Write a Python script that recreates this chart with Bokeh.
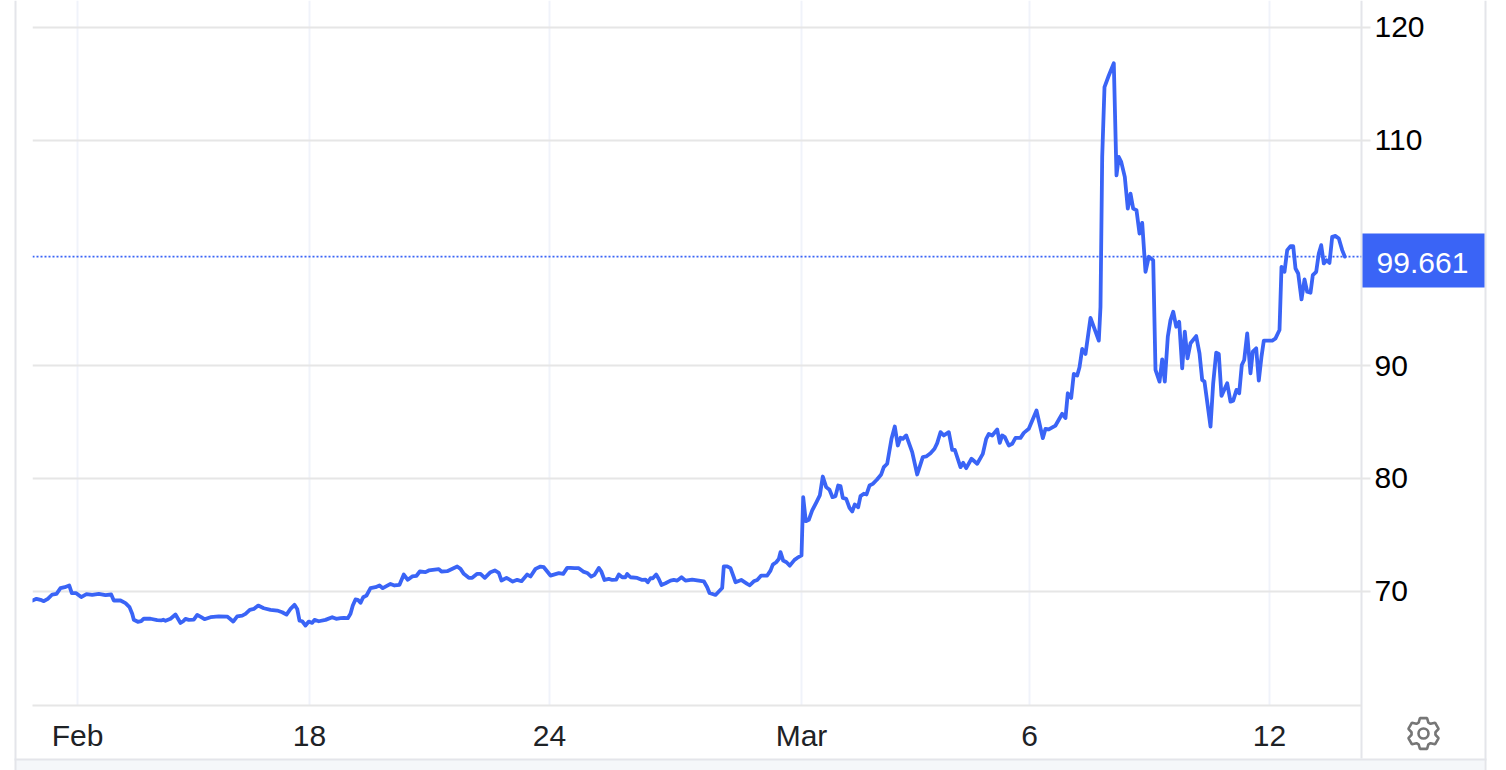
import math
from bokeh.core.properties import value
from bokeh.embed import file_html
from bokeh.models import FixedTicker, Range1d, Span
from bokeh.plotting import figure
from bokeh.resources import INLINE

# Time is an evenly compressed session axis.
t_early = [32,36,40,43.3,47.3,51.7,56,60,64.3,68.7,71.3,75.7,80.7,86,91.7,98.3,105,110.7,113.3,120,125,129,131.7,133.3,137.3,140.7,143.3,150,156.7,160.7,162.7,165,170,175]
p_early = [69.18,69.33,69.24,69.12,69.33,69.71,69.77,70.27,70.36,70.51,69.83,69.83,69.48,69.74,69.68,69.77,69.65,69.71,69.18,69.18,68.94,68.59,68.0,67.47,67.29,67.35,67.58,67.56,67.44,67.41,67.47,67.38,67.56,67.94]

t_feb_a = [180,182.7,185,188.3,193.3,196.7,200.7,204,210,218.3,226.7,230,232.7,236.7,241.7,245,249.3,253.3,257.7,263.3,270,276.7,281.7,286,290,294,296.7,299,301.7,305,308.3,311.7,314,318.3,325,331.7,335.7,340]
p_feb_a = [67.19,67.34,67.55,67.46,67.49,67.9,67.7,67.52,67.7,67.78,67.75,67.52,67.31,67.78,67.84,67.99,68.35,68.43,68.73,68.49,68.35,68.29,68.14,67.93,68.43,68.79,68.43,67.4,67.34,66.96,67.31,67.19,67.46,67.34,67.46,67.7,67.55,67.61]

t_feb_b = [343.3,347.3,350,352.3,355,357.3,360,362.7,366,370,375,379,382.3,390,394,399,403.3,407.3,411.7,416,419.3,425,428.3,438.3,441,446.7,456.7,460,463.3,468.3,471.7,476.7,480,484.3,490,494.3,498.3,501,506,512.3,516.7,521,526.7,530,535,540,543.3,550,558.3,562.7,566.7]
p_feb_b = [67.64,67.61,68.0,68.73,69.27,69.24,68.97,69.47,69.62,70.27,70.36,70.51,70.27,70.65,70.51,70.57,71.48,71.01,71.31,71.37,71.75,71.69,71.84,71.96,71.75,71.78,72.19,71.98,71.54,71.19,71.19,71.54,71.54,71.19,71.69,71.84,71.63,70.95,71.19,70.86,71.01,70.89,71.48,71.31,71.98,72.19,72.13,71.39,71.6,71.54,72.07]

t_feb_c = [570,574,578.3,582.7,586.7,590.7,594,598.3,600.7,604,608.3,611.7,615.7,618.3,621.7,625,626.7,630,636.7,641.7,645,647.3,650,652.3,655.7,658.3,661,665,670,673.3,676.7,681,685,691.7,698.3,703.3,706.7,709,715,721.7,723.3,726.7,730,733.3,735,740.7,746.7,749.3,753.3,756.7,760.7,766.7,770,772.3,775.7,778.3,780,782.7,786,789.3,794,796.7,801]
p_feb_c = [72.07,72.04,72.04,71.74,71.62,71.3,71.45,72.07,71.77,71.0,71.09,71.0,71.03,71.48,71.24,71.24,71.53,71.24,71.18,71.0,71.03,70.8,71.15,71.15,71.48,71.09,70.56,70.71,70.94,71.0,70.94,71.24,70.94,71.03,70.94,70.88,70.35,69.85,69.67,70.29,72.21,72.21,72.04,71.24,70.8,71.0,70.65,70.53,70.88,71.0,71.39,71.39,71.83,72.36,72.57,72.86,73.46,72.72,72.57,72.27,72.78,72.95,73.17]

t_mar_a = [802.7,805.3,808.3,811.7,816,819.3,822.3,825.7,829,832,835,837.7,840,842.3,845.7,849,851.7,854.3,857.7,860,863.3,866,869,872.3,876.3,880.7,883.3,886.7,891,894.3,897.3,900,902.3,905.7,911.7,916.7,922.3,925.7,930,934,936.7,940,943.3,948.3,951.7,954.3,960,962.7,965.7,971,976.7,982.3,985.7,988.3,991.7,996.7,999.3,1001.7,1004.3,1008.3,1011.7,1015,1020,1023.3,1028.3,1036,1042.3,1045,1048.3,1055]
p_mar_a = [78.34,76.21,76.33,77.16,77.9,78.49,80.17,79.23,78.99,78.34,78.43,79.37,79.32,78.28,78.19,77.39,77.07,77.69,77.45,78.43,78.64,78.58,79.37,79.52,79.88,80.35,81.0,81.3,83.51,84.6,82.92,83.6,83.51,83.81,82.33,80.35,81.89,81.95,82.24,82.63,83.13,84.1,83.81,84.1,82.54,82.54,81.0,81.38,80.91,81.74,81.3,82.18,83.51,83.95,83.81,84.34,83.16,83.81,83.66,82.92,83.07,83.6,83.6,84.04,84.4,86.02,83.57,84.4,84.34,84.69]

t_mar_b = [1061.7,1065,1067.3,1070.7,1073.3,1076.7,1079,1081.7,1085,1090,1098.3,1100,1101.7,1104,1108.3,1113.3,1116,1118.3,1120.7,1124.3,1127.3,1130,1132.7,1136,1139,1141.7,1145,1148.3,1152.7,1155,1159,1161.7,1164.3,1167.3,1170,1172.7,1175.7,1178.7,1181.7,1184.3,1187,1190,1195.7,1199,1201.7,1204,1210]
p_mar_b = [85.73,85.36,87.55,87.14,89.27,89.12,89.86,91.48,91.04,94.23,92.22,95.22,108.5,114.69,115.72,116.81,106.87,108.5,108.06,106.73,103.92,105.25,103.92,103.78,101.71,102.66,98.32,99.65,99.35,89.62,88.58,90.56,88.58,92.56,94.04,94.78,93.45,93.89,89.76,93.01,90.65,91.98,92.62,91.09,88.73,88.58,84.6]

t_mar_c = [1212.7,1215.7,1218.3,1221,1226.7,1230,1232.7,1236,1238.7,1241.3,1243.7,1246.7,1250,1252.3,1255.7,1258.3,1261,1263.3,1266,1271.7,1275,1279,1281,1284,1286.7,1290,1292.7,1295,1297.7,1301,1304,1306.7,1310,1312.3,1315.7,1318.3,1320.7,1323.3,1326,1329,1331.7,1335,1338.3,1341.7,1344.3]
p_mar_c = [88.44,91.15,91.03,87.32,88.44,86.81,86.9,87.85,87.55,90.06,90.5,92.86,89.32,91.24,91.53,88.67,90.8,92.21,92.21,92.21,92.42,93.16,98.76,98.32,100.24,100.59,100.59,98.61,98.17,95.87,97.64,96.55,96.46,98.02,98.32,99.94,100.68,99.06,99.35,99.11,101.42,101.5,101.27,100.24,99.661]

x_ticks = [77, 309, 549, 801, 1029, 1269]
x_labels = ["Feb", "18", "24", "Mar", "6", "12"]
y_ticks = [70, 80, 90, 110, 120]
last_price = 99.661
price_text = ["99.661"]

times = t_early + t_feb_a + t_feb_b + t_feb_c + t_mar_a + t_mar_b + t_mar_c
prices = p_early + p_feb_a + p_feb_b + p_feb_c + p_mar_a + p_mar_b + p_mar_c

BLUE = "#3a64f6"
GRID_H = "#e6e6e6"
GRID_V = "#f0f3fa"
EDGE = "#e4e5ea"
W, H = 1506, 770

# Chrome layer: page frame, axis rule, price tag and settings icon
back = figure(width=W, height=H, output_backend="svg", toolbar_location=None,
              x_range=Range1d(0, W), y_range=Range1d(H, 0),
              x_axis_location=None, y_axis_location=None,
              min_border=0, outline_line_color=None)
back.grid.visible = False
back.quad(left=[15], right=[1484], top=[759], bottom=[770], fill_color="#f5f7fa", line_color=None)
back.quad(left=[14, 1484, 14, 1360], right=[16, 1486, 1486, 1362],
          top=[0, 0, 758, 0], bottom=[770, 770, 760, 758],
          fill_color=EDGE, line_color=None)
back.quad(left=[1362], right=[1484], top=[233], bottom=[287], fill_color=BLUE, line_color=None)
back.text(x=[1422], y=[262], text=price_text, text_color="white",
          text_font=value("Liberation Sans"), text_font_size="30px",
          text_align="center", text_baseline="middle")

cx, cy = 1423, 733
gear_x, gear_y = [], []
for i in range(6):
    a0 = math.radians(60 * i - 90)
    for da, r in [(-24, 12.0), (-13, 15.8), (13, 15.8), (24, 12.0)]:
        a = a0 + math.radians(da)
        gear_x.append(cx + r * math.cos(a))
        gear_y.append(cy + r * math.sin(a))
back.patch(gear_x, gear_y, fill_alpha=0, line_color="#767676", line_width=2.6)
back.circle(x=[cx], y=[cy], radius=5, fill_alpha=0, line_color="#767676", line_width=2.6)

# Chart layer
p = figure(width=W, height=H, output_backend="svg", toolbar_location=None,
           x_range=Range1d(32, 1361), y_range=Range1d(59.87, 122.37),
           y_axis_location="right", min_border_left=32, min_border_right=145,
           min_border_top=0, min_border_bottom=65)
p.outline_line_color = None
p.background_fill_alpha = 0
p.border_fill_alpha = 0
p.styles = {"position": "absolute", "left": "0", "top": "0"}

yaxis = p.yaxis[0]
yaxis.ticker = FixedTicker(ticks=y_ticks)
yaxis.axis_line_color = None
yaxis.major_tick_line_color = GRID_H
yaxis.major_tick_line_width = 2
yaxis.major_tick_out = 9
yaxis.major_tick_in = 0
yaxis.minor_tick_line_color = None
yaxis.major_label_text_font = "Liberation Sans"
yaxis.major_label_text_font_size = "30px"
yaxis.major_label_text_color = "#000000"
yaxis.major_label_standoff = 4

xaxis = p.xaxis[0]
xaxis.ticker = FixedTicker(ticks=x_ticks)
xaxis.major_label_overrides = dict(zip(x_ticks, x_labels))
xaxis.axis_line_color = GRID_H
xaxis.axis_line_width = 2
xaxis.major_tick_line_color = None
xaxis.minor_tick_line_color = None
xaxis.major_tick_out = 0
xaxis.major_tick_in = 0
xaxis.major_label_text_font = "Liberation Sans"
xaxis.major_label_text_font_size = "30px"
xaxis.major_label_text_color = "#1e2226"
xaxis.major_label_standoff = 13

p.xgrid.grid_line_color = GRID_V
p.xgrid.grid_line_width = 2
p.ygrid.grid_line_color = GRID_H
p.ygrid.grid_line_width = 2

p.line(times, prices, line_color=BLUE, line_width=3.8, line_join="round", line_cap="round")
p.add_layout(Span(location=last_price, dimension="width", line_color=BLUE,
                  line_width=1.6, line_dash="2 2"))

open("out.html", "w").write(file_html([back, p], INLINE))
